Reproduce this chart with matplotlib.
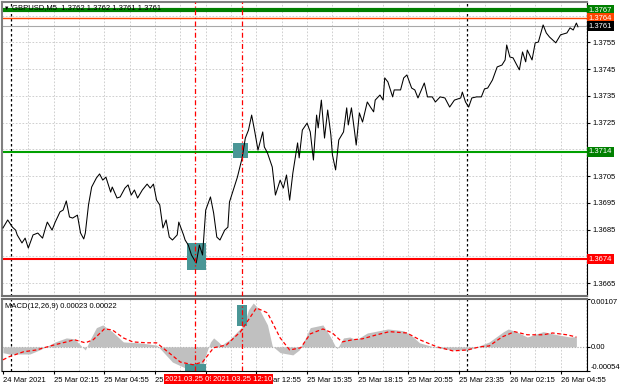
import matplotlib.pyplot as plt
from matplotlib.patches import Rectangle

plt.rcParams['font.family'] = ['Liberation Sans', 'DejaVu Sans']
plt.rcParams['font.size'] = 5.5

# GBPUSD M5 closes, bar index counted from 24 Mar 23:35
price_bar = [0, 3, 6, 8, 9, 12, 14, 16, 19, 22,
             25, 27, 28, 31, 33, 36, 38, 40, 42, 44,
             47, 49, 51, 52, 54, 56, 59, 61, 63, 65,
             68, 69, 72, 74, 77, 79, 81, 83, 85, 88,
             91, 93, 95, 97, 99, 101, 103, 105, 107, 110,
             111, 114, 115, 117, 119, 122, 124, 126, 128, 131,
             133, 135, 137, 140, 142, 143, 146, 148, 151, 153,
             155, 157, 159, 161, 164, 165, 167, 170, 172, 175,
             177, 179, 181, 183, 186, 187, 189, 192, 194, 196,
             198, 199, 201, 203, 205, 207, 208, 210, 212, 215,
             217, 218, 220, 222, 223, 225, 227, 230, 232, 234,
             235, 238, 240, 241, 243, 246, 247, 251, 253, 255,
             258, 260, 262, 266, 268, 271, 273, 276, 279, 282,
             285, 289, 290, 292, 294, 296, 299, 302, 304, 306,
             309, 312, 315, 317, 318, 320, 322, 325, 326, 328,
             330, 331, 334, 336, 338, 341, 343, 345, 347, 349,
             352, 356, 358, 360, 362, 363]
price_close = [1.36856, 1.36886, 1.36859, 1.36848, 1.36830, 1.36800, 1.36818, 1.36781, 1.36830, 1.36837,
               1.36818, 1.36859, 1.36878, 1.36848, 1.36878, 1.36916, 1.36923, 1.36957, 1.36897, 1.36893,
               1.36904, 1.36837, 1.36815, 1.36837, 1.36942, 1.37009, 1.37043, 1.37058, 1.37035, 1.37046,
               1.36990, 1.37009, 1.36968, 1.36972, 1.37005, 1.37017, 1.36979, 1.36998, 1.36968, 1.36998,
               1.37020, 1.37005, 1.37020, 1.36960, 1.36942, 1.36856, 1.36886, 1.36822, 1.36811, 1.36830,
               1.36878, 1.36830, 1.36811, 1.36792, 1.36755, 1.36725, 1.36792, 1.36755, 1.36923, 1.36972,
               1.36912, 1.36822, 1.36811, 1.36848, 1.36859, 1.36953, 1.37009, 1.37046, 1.37118, 1.37192,
               1.37222, 1.37278, 1.37215, 1.37147, 1.37215, 1.37159, 1.37136, 1.37084, 1.36979, 1.37035,
               1.37005, 1.37054, 1.36960, 1.37061, 1.37174, 1.37118, 1.37222, 1.37248, 1.37215, 1.37110,
               1.37278, 1.37230, 1.37334, 1.37192, 1.37297, 1.37204, 1.37129, 1.37073, 1.37185, 1.37215,
               1.37305, 1.37241, 1.37305, 1.37215, 1.37166, 1.37286, 1.37252, 1.37327, 1.37308, 1.37290,
               1.37334, 1.37353, 1.37334, 1.37417, 1.37402, 1.37346, 1.37372, 1.37372, 1.37417, 1.37428,
               1.37379, 1.37372, 1.37342, 1.37398, 1.37346, 1.37346, 1.37327, 1.37346, 1.37342, 1.37308,
               1.37334, 1.37342, 1.37364, 1.37327, 1.37308, 1.37342, 1.37346, 1.37346, 1.37376, 1.37379,
               1.37409, 1.37458, 1.37465, 1.37484, 1.37540, 1.37495, 1.37492, 1.37458, 1.37447, 1.37514,
               1.37477, 1.37521, 1.37484, 1.37548, 1.37551, 1.37615, 1.37585, 1.37570, 1.37559, 1.37548,
               1.37578, 1.37585, 1.37604, 1.37596, 1.37622, 1.37608]

# MACD(12,26,9) main (histogram) and signal
macd_bar = [0, 4, 17, 23, 27, 33, 40, 45, 50, 52,
            55, 59, 63, 69, 76, 86, 97, 100, 107, 115,
            121, 126, 128, 131, 133, 136, 138, 143, 152, 155,
            158, 162, 167, 170, 175, 183, 187, 191, 194, 202,
            206, 210, 211, 215, 219, 223, 230, 243, 253, 259,
            263, 274, 284, 294, 299, 307, 316, 319, 324, 331,
            341, 350, 358, 362]
macd_main = [-0.00013, -0.00016, -0.00016, -0.00007, 0, 0.00011, 0.0002, 0.00018, 0, -0.00007,
             0.00016, 0.00043, 0.00049, 0.00034, 0.00011, 0.00009, 0.00004, -0.00007, -0.00034, -0.00047,
             -0.00051, -0.00045, -0.00018, 0.00011, 0.0002, 0.00011, 0.00004, 0.00016, 0.00049, 0.00083,
             0.00098, 0.00083, 0.00049, 0.00002, -0.00013, -0.00018, -0.00007, 0.0002, 0.00043, 0.00049,
             0.00027, 0, -0.00004, 0.0002, 0.00022, 0.00016, 0.00031, 0.0004, 0.00036, 0.00022,
             0.00009, -0.00002, -0.00007, -0.00007, 0, 0.00011, 0.00034, 0.0004, 0.00034, 0.00022,
             0.00034, 0.00027, 0.00022, 0.00023]
signal_bar = [0, 4, 13, 21, 32, 40, 45, 52, 57, 64,
              69, 76, 82, 91, 97, 104, 112, 120, 126, 133,
              141, 150, 160, 167, 175, 181, 188, 194, 202, 208,
              214, 221, 227, 236, 244, 255, 263, 274, 284, 293,
              301, 307, 315, 323, 331, 341, 347, 356, 362]
macd_signal = [-0.00029, -0.00022, -0.00011, -0.00007, 0.00004, 0.00011, 0.00016, 0.00009, 0.00016, 0.0004,
               0.00038, 0.0002, 0.00011, 0.00009, 0.00009, -0.00011, -0.00034, -0.0004, -0.00034, -0.00002,
               0.00004, 0.00034, 0.00087, 0.00076, 0.0002, -0.00007, -0.00002, 0.00029, 0.0004, 0.00031,
               0.00011, 0.00016, 0.00018, 0.00027, 0.00034, 0.00031, 0.00016, 0, -0.00009, -0.00007,
               0, 0.00002, 0.00022, 0.00034, 0.00027, 0.00027, 0.00031, 0.00027, 0.00022]

tick_bars = [0, 32, 64, 96, 128, 160, 192, 224, 256, 288, 320, 352]
tick_labels = ['24 Mar 2021', '25 Mar 02:15', '25 Mar 04:55', '25 Mar 07:35', '25 Mar 10:15',
               '25 Mar 12:55', '25 Mar 15:35', '25 Mar 18:15', '25 Mar 20:55', '25 Mar 23:35',
               '26 Mar 02:15', '26 Mar 04:55']
price_ticks = [1.3665, 1.3685, 1.3695, 1.3705, 1.3725, 1.3735, 1.3745, 1.3755]
grid_prices = [1.3665, 1.3675, 1.3685, 1.3695, 1.3705, 1.3715, 1.3725, 1.3735, 1.3745, 1.3755, 1.3765]
day_bars = [5, 293]

# levels drawn on chart: price, line colour, width
levels = [(1.3767, '#008000', 3.0), (1.3764, '#ff4500', 1.0), (1.3761, '#a8a8a8', 0.8),
          (1.3714, '#00a000', 1.5), (1.3674, '#ff0000', 1.5)]
label_boxes = [(1.3767, '#008000'), (1.3764, '#ff4500'), (1.3761, '#000000'),
               (1.3714, '#008000'), (1.3674, '#ff0000')]

# entry signals
signal_bars = [121, 151]
signal_times = ['2021.03.25 09:40', '2021.03.25 12:10']
price_marks = [(116, 128, 1.36699, 1.36800), (145, 155, 1.37118, 1.37174)]
macd_marks = [(115, 128, -0.00054, -0.00038), (148, 154, 0.00047, 0.00094)]

W, H = 620, 388


def rect(x0, y0, x1, y1):
    return [x0 / W, 1 - y1 / H, (x1 - x0) / W, (y1 - y0) / H]


fig = plt.figure(figsize=(6.2, 3.88), dpi=100)
ax = fig.add_axes(rect(2, 2, 587, 296))
ax2 = fig.add_axes(rect(2, 299, 587, 371), sharex=ax)

grid_kw = dict(color='#c8c8c8', lw=0.6, ls=(0, (2, 2)), zorder=0)
for a in (ax, ax2):
    for b in range(16, 369, 16):
        a.axvline(b, **grid_kw)
    for b in day_bars:
        a.axvline(b, color='black', lw=0.9, ls=(0, (2, 2)), zorder=1)
    for b in signal_bars:
        a.axvline(b, color='red', lw=0.9, ls=(0, (4, 2, 1, 2)), zorder=4)
for p in grid_prices:
    ax.axhline(p, **grid_kw)

# main price panel
for p, c, w in levels:
    ax.axhline(p, color=c, lw=w, zorder=2)
for b0, b1, p0, p1 in price_marks:
    ax.add_patch(Rectangle((b0, p0), b1 - b0, p1 - p0, fc='#4a9696', ec='none', zorder=2.5))
ax.plot(price_bar, price_close, color='black', lw=0.75, zorder=3)

ax.set_xlim(-0.6, 368.7)
ax.set_ylim(1.366017, 1.377007)
ax.yaxis.tick_right()
ax.set_yticks(price_ticks)
ax.set_yticklabels(['%.4f' % p for p in price_ticks])
ax.tick_params(axis='y', length=2, pad=2)
ax.tick_params(axis='x', bottom=False, labelbottom=False)
for p, c in label_boxes:
    ax.text(1.003, p, '%.4f' % p, transform=ax.get_yaxis_transform(), ha='left', va='center',
            color='white', clip_on=False, zorder=10,
            bbox=dict(boxstyle='square,pad=0.18', fc=c, ec='none'))

fig.text(4 / W, 1 - 8 / H, '\u25bc', fontsize=4, va='center', ha='left', zorder=10)
fig.text(12 / W, 1 - 8 / H, 'GBPUSD,M5  1.3762 1.3762 1.3761 1.3761', va='center', ha='left', zorder=10)

# MACD panel
ax2.axhline(0, color='#a0a0a0', lw=0.8, ls=(0, (1, 1.5)), zorder=1)
ax2.fill_between(macd_bar, 0, macd_main, color='#c0c0c0', lw=0, zorder=2)
for b0, b1, m0, m1 in macd_marks:
    ax2.add_patch(Rectangle((b0, m0), b1 - b0, m1 - m0, fc='#4a9696', ec='none', zorder=2.5))
ax2.plot(signal_bar, macd_signal, color='red', lw=0.9, ls=(0, (3, 2)), zorder=3)
ax2.set_ylim(-0.00054, 0.00107)
ax2.yaxis.tick_right()
ax2.set_yticks([-0.00054, 0, 0.00107])
ax2.set_yticklabels(['-0.00054', '0.00', '0.00107'])
labs = ax2.get_yticklabels()
labs[0].set_va('bottom')
labs[2].set_va('top')
ax2.tick_params(axis='y', length=2, pad=0.5)
ax2.set_xticks(tick_bars)
ax2.set_xticklabels(tick_labels, ha='left')
ax2.tick_params(axis='x', length=2, pad=2)
ax2.text(0.005, 0.95, 'MACD(12,26,9) 0.00023 0.00022', transform=ax2.transAxes, va='top', ha='left')

for b, t in zip(signal_bars, signal_times):
    ax2.text(b, -0.115, t, transform=ax2.get_xaxis_transform(), ha='center', va='center',
             color='white', clip_on=False, zorder=10,
             bbox=dict(boxstyle='square,pad=0.2', fc='#ff0000', ec='none'))

for a in (ax, ax2):
    a.spines['left'].set_color('#808080')
    a.spines['left'].set_linewidth(1.5)
    a.spines['right'].set_color('black')
    a.spines['right'].set_linewidth(0.8)
ax.spines['top'].set_color('#808080')
ax.spines['top'].set_linewidth(1.5)
ax.spines['bottom'].set_color('#707070')
ax.spines['bottom'].set_linewidth(1.5)
ax2.spines['top'].set_color('#707070')
ax2.spines['top'].set_linewidth(1.5)
ax2.spines['bottom'].set_color('black')
ax2.spines['bottom'].set_linewidth(0.8)

fig.savefig('out.png', dpi=100)
